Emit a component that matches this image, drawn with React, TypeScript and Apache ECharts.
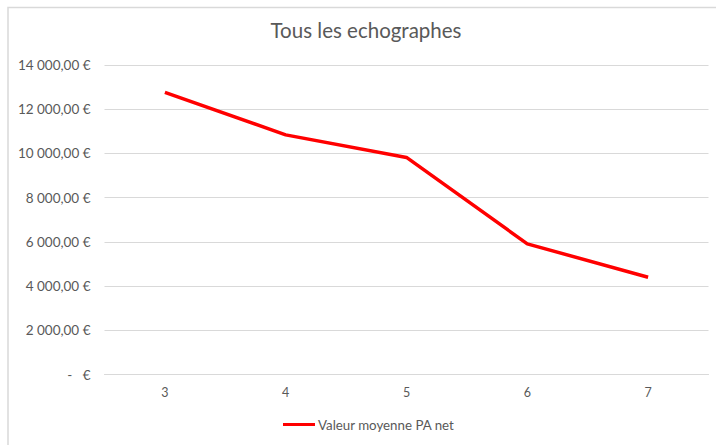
import React, { useEffect, useRef } from "react";
import * as echarts from "echarts";

const categories = ["3", "4", "5", "6", "7"];
const seriesName = "Valeur moyenne PA net";
const values = [12760, 10840, 9820, 5910, 4400];
const titleText = "Tous les echographes";

function fmt(v: number): string {
  if (v === 0) return "-   €";
  const s = Math.round(v).toString().replace(/\B(?=(\d{3})+(?!\d))/g, " ");
  return s + ",00 €";
}

export default function App() {
  const ref = useRef<HTMLDivElement>(null);
  useEffect(() => {
    document.body.style.margin = "0";
    const chart = echarts.init(ref.current!, null, { renderer: "svg" });
    const font = "Lato, 'Open Sans', sans-serif";
    chart.setOption({
      animation: false,
      backgroundColor: "#ffffff",
      title: {
        text: titleText,
        left: 366,
        textAlign: "center",
        top: 19,
        padding: 0,
        textStyle: { fontFamily: font, fontSize: 20.5, fontWeight: "normal", color: "#595959" },
      },
      graphic: [
        {
          type: "polyline",
          shape: { points: [[8, 445], [8, 7.5], [716, 7.5]] },
          style: { stroke: "#d9d9d9", lineWidth: 1.5, fill: "none" },
        },
      ],
      legend: {
        bottom: 14,
        left: 283,
        padding: 0,
        itemWidth: 32,
        itemHeight: 3,
        itemGap: 3,
        icon: "rect",
        data: [{ name: seriesName, itemStyle: { color: "#ff0000" } }],
        textStyle: { fontFamily: font, fontSize: 13.3, color: "#595959", padding: [0, 0, 0, -2] },
      },
      grid: { left: 104.5, right: 7.5, top: 65, bottom: 70.5, containLabel: false },
      xAxis: {
        type: "category",
        data: categories,
        boundaryGap: true,
        axisLine: { show: true, lineStyle: { color: "#d9d9d9", width: 1 } },
        axisTick: { show: false },
        axisLabel: { fontFamily: font, fontSize: 12.5, color: "#595959", margin: 11 },
      },
      yAxis: {
        type: "value",
        min: 0,
        max: 14000,
        interval: 2000,
        axisLine: { show: false },
        axisTick: { show: false },
        splitLine: { lineStyle: { color: "#d9d9d9", width: 1 } },
        axisLabel: {
          fontFamily: font,
          fontSize: 13.5,
          color: "#595959",
          margin: 14,
          formatter: (v: number) => fmt(v),
        },
      },
      series: [
        {
          name: seriesName,
          type: "line",
          data: values,
          symbol: "none",
          lineStyle: { color: "#ff0000", width: 3.5 },
          itemStyle: { color: "#ff0000" },
        },
      ],
    });
    return () => chart.dispose();
  }, []);
  return (
    <div
      ref={ref}
      style={{ width: 716, height: 445, position: "absolute", left: 0, top: 0 }}
    />
  );
}
